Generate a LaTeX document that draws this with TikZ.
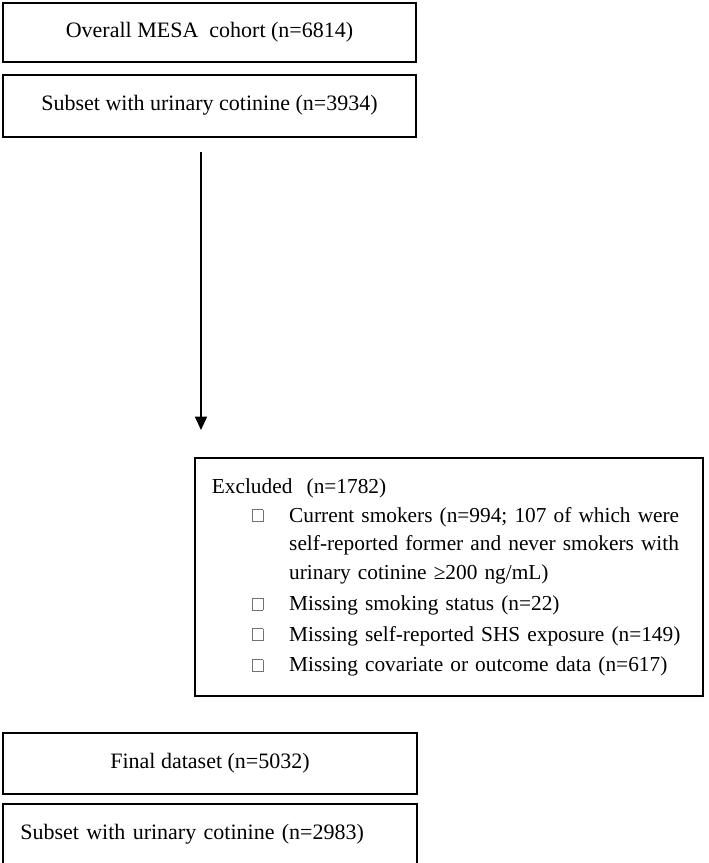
\documentclass[tikz,border=0pt]{standalone}
\usepackage{fontspec}
\setmainfont{Liberation Serif}
\usetikzlibrary{positioning, arrows.meta}
\newlength\stagewidth
\setlength\stagewidth{310pt}
\newlength\bulletwidth
\setlength\bulletwidth{7.5pt}
\newcommand\emptybullet{{\color{black!55}\fboxsep=0pt\fboxrule=0.5pt\raisebox{0.5pt}{\fbox{\rule{0pt}{8.5pt}\rule{\bulletwidth}{0pt}}}}}

\begin{document}
\begin{tikzpicture}[
    x=0.75pt, y=-0.75pt,
    every node/.style={font=\fontsize{16.5}{22}\selectfont},
    stage/.style={
        draw=black,
        line width=1.3pt,
        minimum width=\stagewidth,
        inner sep=0pt,
    },
    excl/.style={
        draw=black,
        line width=1.3pt,
        text width=355.5pt,
        minimum height=178.5pt,
        inner xsep=12.75pt,
        align=left,
        anchor=north west,
        font=\fontsize{16}{22}\selectfont,
    },
    flow/.style={
        -{Triangle[length=10pt, width=9pt]},
        line width=1.3pt,
    },
]
\useasboundingbox (0, 0) rectangle (709, 863);
\node [stage, minimum height=44.25pt] (overall) at (209.5, 32.5) {Overall MESA~~cohort (n=6814)};
\node [stage, minimum height=46.5pt, below=8.25pt of overall] (subset) {Subset with urinary cotinine (n=3934)};
\coordinate (flow-start) at (201, 152);
\coordinate (flow-end) at (201, 430);
\draw [flow] (flow-start) -- (flow-end);
\node [excl] (excluded) at (194, 457) {%
    \renewcommand\arraystretch{0.98}%
    \begin{tabular}{@{\hspace{30pt}}l@{\hspace{19.5pt}}l@{}}
        \multicolumn{2}{@{}l@{}}{Excluded~~(n=1782)}\\
        \emptybullet & Current smokers (n=994; 107 of which were\\
                     & self-reported former and never smokers with\\
                     & urinary cotinine ≥200 ng/mL)\\[1.5pt]
        \emptybullet & Missing smoking status (n=22)\\[1.5pt]
        \emptybullet & Missing self-reported SHS exposure (n=149)\\[1.5pt]
        \emptybullet & Missing covariate or outcome data (n=617)
    \end{tabular}};
\node [stage, minimum height=45.75pt] (final) at (210, 763.5) {Final~dataset (n=5032)};
\node [stage, minimum height=45pt, inner xsep=12.75pt, text width=284.5pt, align=left, below=6pt of final] (finalsubset) {Subset with urinary cotinine (n=2983)};
\end{tikzpicture}
\end{document}
